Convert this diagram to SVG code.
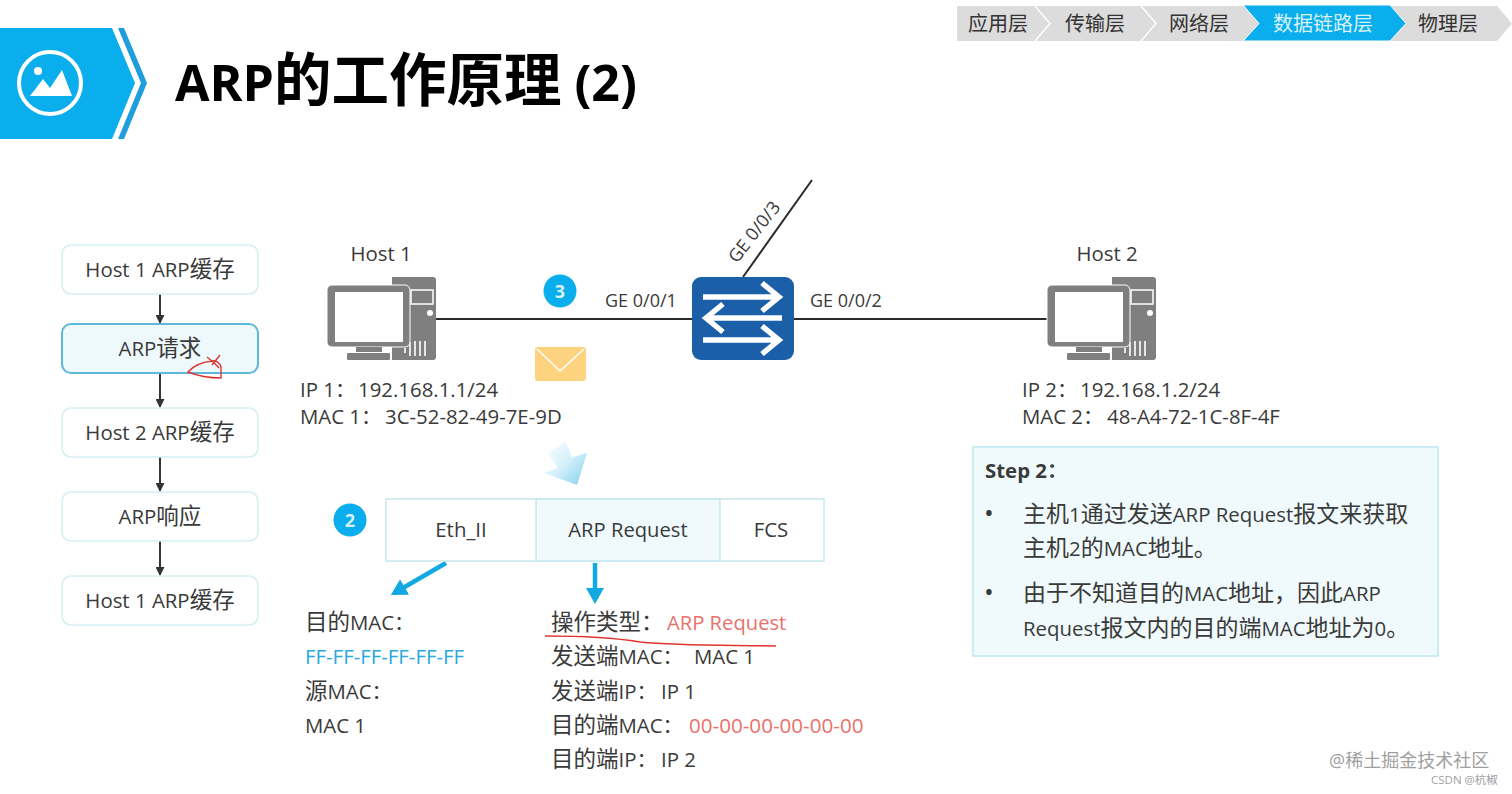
<svg xmlns="http://www.w3.org/2000/svg" xmlns:xlink="http://www.w3.org/1999/xlink" width="1512" height="794" viewBox="0 0 1512 794">
<style>
text{font-family:"Open Sans","Noto Sans CJK SC","Noto Sans",sans-serif;font-size:20.4px;fill:#3a3a3a}
.z{font-size:22.5px}
.zz{font-size:23px}
.c{text-anchor:middle}
.box{fill:#fff;stroke:#d5eef3;stroke-width:1.5}
.hi{fill:#eef9fc;stroke:#5fb8dc;stroke-width:2}
.link{stroke:#2a2a2a;stroke-width:2;fill:none}
.flow{stroke:#333;stroke-width:2;fill:none;marker-end:url(#ah)}
.sw{stroke:#fff;stroke-width:5.5;fill:none}
.red{stroke:#e0352f;stroke-width:1.4;fill:none}
.blue{stroke:#12a9e3;stroke-width:4.5;fill:none;marker-end:url(#bh)}
.seg{fill:#dcdcdc}
.crumb{font-size:20px;fill:#333}
.num{font-size:18px;font-weight:700;fill:#d8f2fb}
.port{font-size:18px}
.cy{fill:#2aa9e0}
.rd{fill:#e8716c}
.big{font-size:50px;font-weight:700;fill:#000}
.bigz{font-size:57.5px}
</style>
<defs>
<marker id="ah" markerWidth="10" markerHeight="9" refX="8" refY="4.5" orient="auto" markerUnits="userSpaceOnUse"><path d="M0 0L9 4.5L0 9Z" fill="#333"/></marker>
<marker id="bh" markerWidth="20" markerHeight="18" refX="10" refY="9" orient="auto" markerUnits="userSpaceOnUse"><path d="M0 0L16 9L0 18Z" fill="#12a9e3"/></marker>
<linearGradient id="bg" x1="0" y1="0" x2="1" y2="1"><stop offset="0" stop-color="#ffffff"/><stop offset="0.5" stop-color="#d5f0fa"/><stop offset="1" stop-color="#7fd0ee"/></linearGradient>
<g id="pc">
<path d="M392 277H433Q436 277 436 280V357Q436 360 433 360H392Z" fill="#7f7f7f"/>
<rect x="411" y="290" width="22" height="14" fill="#7f7f7f" stroke="#fff" stroke-width="1.5"/>
<circle cx="430" cy="313" r="3" fill="#fff"/>
<path d="M405 353V348M410 356V342M415 356V341M420 356V341M425 356V341" stroke="#fff" stroke-width="1.6"/>
<rect x="327" y="285" width="83" height="62" rx="5" fill="#7f7f7f" stroke="#fff" stroke-width="1"/>
<rect x="335" y="292" width="68" height="50" fill="#fff"/>
<rect x="356" y="347" width="26" height="5" fill="#7f7f7f"/>
<rect x="347" y="353" width="43" height="7" rx="1" fill="#7f7f7f"/>
</g>
</defs>

<g id="header">
<path d="M0 28H112L135 83L112 139H0Z" fill="#0aaeec"/>
<path d="M118 28H124L147 83L124 139H118L141 83Z" fill="#1f9ede"/>
<circle cx="50" cy="83" r="31" fill="none" stroke="#fff" stroke-width="4"/>
<circle cx="38" cy="71" r="4" fill="#fff"/>
<path d="M30 96L43 79L50 88L62 70L72 96Z" fill="#fff"/>
<text class="big" x="175" y="101">ARP<tspan class="bigz">的工作原理</tspan> (2)</text>
</g>

<g id="breadcrumb">
<path class="seg" d="M957 6H1034L1049 23.5L1034 41H957Z"/>
<path class="seg" d="M1036 6H1140L1155 23.5L1140 41H1036L1051 23.5Z"/>
<path class="seg" d="M1142 6H1260V41H1142L1157 23.5Z"/>
<path class="seg" d="M1380 6H1497L1512 23.5L1497 41H1380Z"/>
<path d="M1243 5H1390L1406 23.5L1390 41H1243L1259 23.5Z" fill="#0aaeec" stroke="#fff" stroke-width="1"/>
<text class="c crumb" x="998" y="31">应用层</text>
<text class="c crumb" x="1095" y="31">传输层</text>
<text class="c crumb" x="1199" y="31">网络层</text>
<text class="c crumb" x="1323" y="31" style="fill:#d8f3fc">数据链路层</text>
<text class="c crumb" x="1448" y="31">物理层</text>
</g>

<g id="connectors">
<path class="link" d="M436 319H692M794 319H1048M743 277L812 180"/>
<path class="flow" d="M160 294V323"/>
<path class="flow" d="M160 373V407"/>
<path class="flow" d="M160 457V491"/>
<path class="flow" d="M160 541V575"/>
<path class="blue" d="M446 563L396 592"/>
<path class="blue" d="M595 563V598"/>
</g>

<g id="flow1"><rect class="box" x="62" y="245" width="196" height="49" rx="9"/><text class="c" x="160" y="277">Host 1 ARP<tspan class="z">缓存</tspan></text></g>
<g id="flow2"><rect class="hi" x="62" y="324" width="196" height="49" rx="9"/><text class="c" x="160" y="356">ARP<tspan class="z">请求</tspan></text></g>
<g id="flow3"><rect class="box" x="62" y="408" width="196" height="49" rx="9"/><text class="c" x="160" y="440">Host 2 ARP<tspan class="z">缓存</tspan></text></g>
<g id="flow4"><rect class="box" x="62" y="492" width="196" height="49" rx="9"/><text class="c" x="160" y="524">ARP<tspan class="z">响应</tspan></text></g>
<g id="flow5"><rect class="box" x="62" y="576" width="196" height="49" rx="9"/><text class="c" x="160" y="608">Host 1 ARP<tspan class="z">缓存</tspan></text></g>
<path id="scribble" class="red" d="M188 372C194 365 203 362 212 361C216 360 220 363 221 367L221 378C210 378 198 376 188 372ZM207 357Q214 362 219 368M220 355L212 365"/>

<g id="host1"><use href="#pc" xlink:href="#pc"/><text class="c" x="381" y="261">Host 1</text>
<text x="300" y="397">IP 1：<tspan x="358">192.168.1.1/24</tspan></text><text x="300" y="424">MAC 1：<tspan x="385">3C-52-82-49-7E-9D</tspan></text></g>
<g id="host2"><use href="#pc" xlink:href="#pc" x="720"/><text class="c" x="1107" y="261">Host 2</text>
<text x="1022" y="397">IP 2：<tspan x="1080">192.168.1.2/24</tspan></text><text x="1022" y="424">MAC 2：<tspan x="1107">48-A4-72-1C-8F-4F</tspan></text></g>

<g id="switch">
<rect x="692" y="277" width="102" height="83" rx="9" fill="#1a5fa8"/>
<path class="sw" d="M703 297H779M762 283L779 297L762 311"/>
<path class="sw" d="M782 318H706M723 304L706 318L723 332"/>
<path class="sw" d="M703 340H779M762 326L779 340L762 354"/>
</g>
<text class="port" x="605" y="307">GE 0/0/1</text>
<text class="port" x="810" y="307">GE 0/0/2</text>
<text class="port" transform="translate(737 264) rotate(-52)">GE 0/0/3</text>

<g id="badge3"><circle cx="560" cy="291" r="16.5" fill="#0aaeec"/><text class="c num" x="560" y="297.500">3</text></g>
<g id="envelope"><rect x="535" y="347" width="51" height="34" rx="3" fill="#fdd37f"/><path d="M537 349L560 371L584 349" fill="none" stroke="#fff" stroke-width="1.5"/></g>
<path id="bigarrow" d="M565 441L572 457L587 453L577 485L544 473L558 468L548 453Z" fill="url(#bg)"/>

<g id="badge2"><circle cx="350" cy="520" r="16.5" fill="#0aaeec"/><text class="c num" x="350" y="526.500">2</text></g>
<g id="frame">
<rect x="386" y="499" width="438" height="62" fill="#fff" stroke="#c5e8ef" stroke-width="1.5"/>
<rect x="536" y="499" width="184" height="62" fill="#f0fafc" stroke="#c5e8ef" stroke-width="1.5"/>
<text class="c" x="461" y="537">Eth_II</text>
<text class="c" x="628" y="537" style="font-size:20.200px">ARP Request</text>
<text class="c" x="771" y="537">FCS</text>
</g>

<g id="eth">
<text x="305" y="630"><tspan class="z">目的</tspan>MAC：</text>
<text class="cy" x="305" y="664">FF-FF-FF-FF-FF-FF</text>
<text x="305" y="699"><tspan class="z">源</tspan>MAC：</text>
<text x="305" y="733">MAC 1</text>
</g>
<g id="arp">
<text x="551" y="630"><tspan class="z">操作类型：</tspan><tspan class="rd" x="667" style="font-size:20.200px">ARP Request</tspan></text>
<text x="551" y="664"><tspan class="z">发送端</tspan>MAC：<tspan x="694">MAC 1</tspan></text>
<text x="551" y="699"><tspan class="z">发送端</tspan>IP：<tspan x="661">IP 1</tspan></text>
<text x="551" y="733"><tspan class="z">目的端</tspan>MAC：<tspan class="rd" x="689" style="font-size:20.600px">00-00-00-00-00-00</tspan></text>
<text x="551" y="767"><tspan class="z">目的端</tspan>IP：<tspan x="661">IP 2</tspan></text>
<path class="red" d="M545 636C580 636 610 637 640 642C680 646 730 645 776 646"/>
</g>

<g id="stepbox">
<rect x="973" y="447" width="465" height="209" fill="#f0fafc" stroke="#bfe6f0" stroke-width="1.5"/>
<text x="985" y="478" style="font-weight:700">Step 2：</text>
<text x="984" y="522" style="font-size:26px">•</text>
<text x="1023" y="522"><tspan class="zz">主机</tspan>1<tspan class="zz">通过发送</tspan>ARP Request<tspan class="zz">报文来获取</tspan></text>
<text x="1023" y="556"><tspan class="zz">主机</tspan>2<tspan class="zz">的</tspan>MAC<tspan class="zz">地址。</tspan></text>
<text x="984" y="601" style="font-size:26px">•</text>
<text x="1023" y="601"><tspan class="zz">由于不知道目的</tspan>MAC<tspan class="zz">地址，因此</tspan>ARP</text>
<text x="1023" y="636">Request<tspan class="zz">报文内的目的端</tspan>MAC<tspan class="zz">地址为</tspan>0<tspan class="zz">。</tspan></text>
</g>

<g id="watermark">
<text x="1329" y="767" style="font-size:18px;fill:#a0a0a0">@稀土掘金技术社区</text>
<text x="1431" y="784" style="font-size:11.500px;fill:#a0a0a0">CSDN @杭椒</text>
</g>
</svg>
